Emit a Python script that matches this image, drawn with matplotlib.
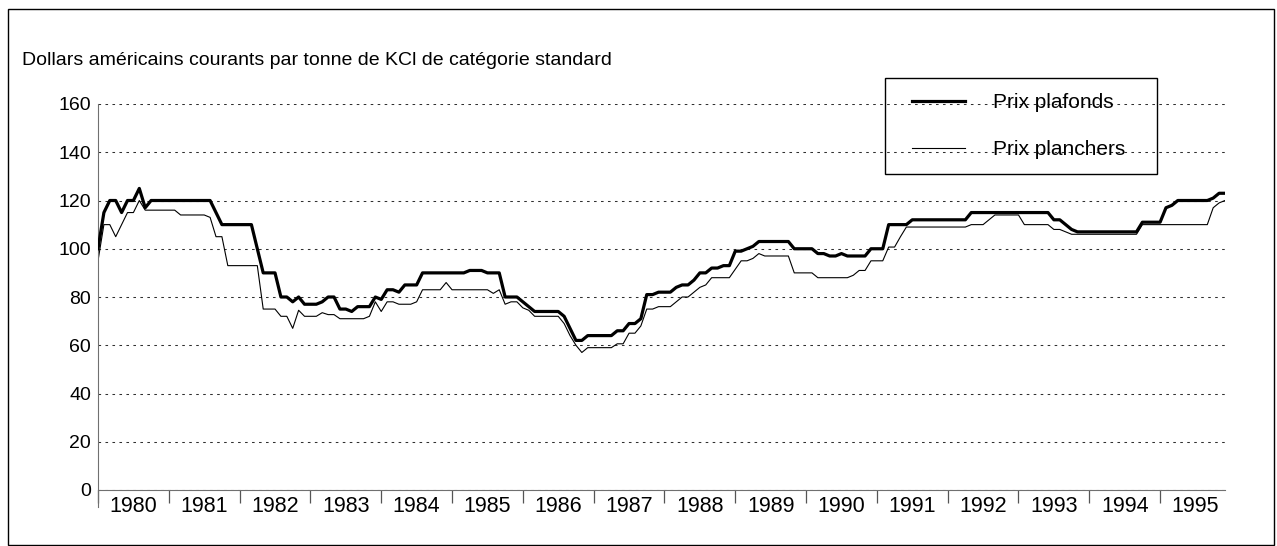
import numpy as np
import matplotlib
matplotlib.use("Agg")
import matplotlib.pyplot as plt
from matplotlib.patches import Rectangle

plt.rcParams['font.family'] = ['Liberation Sans', 'DejaVu Sans']

# monthly prices, Jan 1980 .. Dec 1995 (USD per tonne KCl, standard grade)
years = [str(y) for y in range(1980, 1996)]

prix_plafonds = [
    100, 115, 120, 120, 115, 120, 120, 125, 117, 120, 120, 120,   # 1980
    120, 120, 120, 120, 120, 120, 120, 120, 115, 110, 110, 110,   # 1981
    110, 110, 110, 100, 90, 90, 90, 80, 80, 78, 80, 77,           # 1982
    77, 77, 78, 80, 80, 75, 75, 74, 76, 76, 76, 80,               # 1983
    79, 83, 83, 82, 85, 85, 85, 90, 90, 90, 90, 90,               # 1984
    90, 90, 90, 91, 91, 91, 90, 90, 90, 80, 80, 80,               # 1985
    78, 76, 74, 74, 74, 74, 74, 72, 67, 62, 62, 64,               # 1986
    64, 64, 64, 64, 66, 66, 69, 69, 71, 81, 81, 82,               # 1987
    82, 82, 84, 85, 85, 87, 90, 90, 92, 92, 93, 93,               # 1988
    99, 99, 100, 101, 103, 103, 103, 103, 103, 103, 100, 100,     # 1989
    100, 100, 98, 98, 97, 97, 98, 97, 97, 97, 97, 100,            # 1990
    100, 100, 110, 110, 110, 110, 112, 112, 112, 112, 112, 112,   # 1991
    112, 112, 112, 112, 115, 115, 115, 115, 115, 115, 115, 115,   # 1992
    115, 115, 115, 115, 115, 115, 112, 112, 110, 108, 107, 107,   # 1993
    107, 107, 107, 107, 107, 107, 107, 107, 107, 111, 111, 111,   # 1994
    111, 117, 118, 120, 120, 120, 120, 120, 120, 121, 123, 123,   # 1995
]
prix_planchers = [
    95, 110, 110, 105, 110, 115, 115, 120, 116, 116, 116, 116,    # 1980
    116, 116, 114, 114, 114, 114, 114, 113, 105, 105, 93, 93,     # 1981
    93, 93, 93, 93, 75, 75, 75, 72, 72, 67, 74.5, 72,             # 1982
    72, 72, 73.5, 72.7, 72.7, 71, 71, 71, 71, 71, 72, 78,         # 1983
    74, 78, 78, 77, 77, 77, 78, 83, 83, 83, 83, 86,               # 1984
    83, 83, 83, 83, 83, 83, 83, 81.5, 83, 77, 78, 78,             # 1985
    75.5, 74.5, 72, 72, 72, 72, 72, 69, 64, 60, 57, 59,           # 1986
    59, 59, 59, 59, 60.6, 60.6, 65, 65, 68, 75, 75, 76,           # 1987
    76, 76, 78, 80, 80, 82, 84, 85, 88, 88, 88, 88,               # 1988
    91.5, 95, 95, 96, 98, 97, 97, 97, 97, 97, 90, 90,             # 1989
    90, 90, 88, 88, 88, 88, 88, 88, 89, 91, 91, 95,               # 1990
    95, 95, 100.7, 100.7, 105, 109, 109, 109, 109, 109, 109, 109, # 1991
    109, 109, 109, 109, 110, 110, 110, 112, 114, 114, 114, 114,   # 1992
    114, 110, 110, 110, 110, 110, 108, 108, 107, 106, 106, 106,   # 1993
    106, 106, 106, 106, 106, 106, 106, 106, 106, 110, 110, 110,   # 1994
    110, 110, 110, 110, 110, 110, 110, 110, 110, 117, 119, 120,   # 1995
]

W, H = 1277, 546
fig = plt.figure(figsize=(W / 100, H / 100), dpi=100)
ax = fig.add_axes([98 / W, (H - 490) / H, (1225 - 98) / W, (490 - 104) / H])

months = np.arange(len(prix_plafonds))
ax.plot(months, prix_plafonds, color='black', lw=2.3, label='Prix plafonds', zorder=3)
ax.plot(months, prix_planchers, color='black', lw=0.8, label='Prix planchers', zorder=2)

ax.set_xlim(0, len(months) - 1)
ax.set_ylim(0, 160)

# y axis
ax.set_yticks(range(0, 161, 20))
ax.tick_params(axis='y', length=0, pad=5, labelsize=14)
ax.yaxis.grid(True, color='#303030', lw=0.75, linestyle=(0, (2.5, 4.2)))
ax.set_axisbelow(True)

# x axis: separators between years, labels centred in each year
ax.set_xticks(np.arange(0, len(months) - 1, 12))
ax.set_xticklabels([])
ax.set_xticks(np.arange(6, len(months), 12), minor=True)
ax.set_xticklabels(years, minor=True)
ax.tick_params(axis='x', which='major', length=9, width=0.9, color='#555555', direction='out')
ax.tick_params(axis='x', which='minor', length=0, pad=4, labelsize=15.5)

for side in ['top', 'right']:
    ax.spines[side].set_visible(False)
ax.spines['left'].set_color('#707070')
ax.spines['left'].set_bounds(-7, 160)
ax.spines['bottom'].set_color('#707070')
ax.spines['bottom'].set_linewidth(0.8)

fig.text(22 / W, 1 - 60 / H, 'Dollars américains courants par tonne de KCl de catégorie standard',
         fontsize=14, va='center', ha='left')

leg = ax.legend(loc='center left', bbox_to_anchor=(912 / W, 1 - 126 / H), bbox_transform=fig.transFigure,
                fontsize=15, frameon=False, borderaxespad=0, borderpad=0,
                handlelength=2.55, handletextpad=1.35, labelspacing=1.35)
fig.patches.append(Rectangle((885 / W, 1 - 174 / H), 272 / W, 96 / H, transform=fig.transFigure,
                             fill=False, edgecolor='black', lw=1))

# outer frame around the whole chart
fig.patches.append(Rectangle((8 / W, 1 / H), 1266 / W, 536 / H, transform=fig.transFigure,
                             fill=False, edgecolor='black', lw=1))

fig.savefig('out.png', dpi=100)
